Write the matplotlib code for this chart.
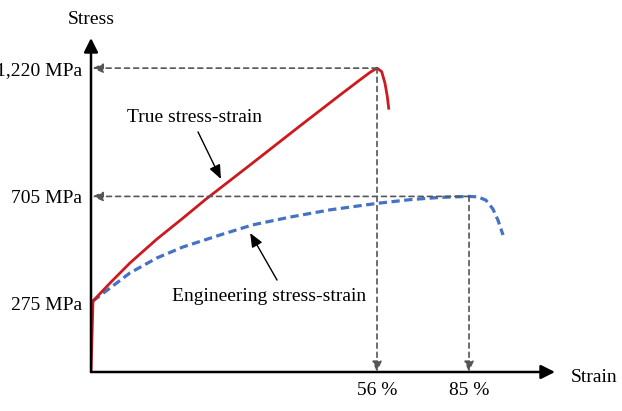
import matplotlib.pyplot as plt

plt.rcParams['font.family'] = ['Liberation Serif', 'DejaVu Serif']
plt.rcParams['font.size'] = 14

# schematic strain position along the axis (0-100), stress in MPa
true_strain = [0, 0.43, 4.09, 8.41, 14.22, 19.83, 24.57, 34.27, 45.04, 53.66,
               57.97, 60.13, 61.64, 62.65, 63.36, 63.86, 64.16]
true_stress = [0, 285, 357, 438, 534, 618, 691, 831, 988, 1112,
               1173, 1203, 1220, 1206, 1159, 1106, 1059]

eng_strain = [0.43, 4.09, 8.41, 14.22, 19.83, 27.80, 34.70, 42.89, 51.51, 61.64,
              68.75, 75.22, 81.47, 83.4, 85.1, 86.6, 87.7, 88.8]
eng_stress = [285, 337, 398, 458, 502, 550, 590, 622, 651, 677,
              692, 701, 705, 703, 690, 655, 610, 550]

# peaks: (strain position, stress) and their labels
peak_x = [61.64, 81.47]
peak_y = [1220, 705]
peak_labels = ['56 %', '85 %']
stress_ticks = [275, 705, 1220]
stress_labels = ['275 MPa', '705 MPa', '1,220 MPa']

fig = plt.figure(figsize=(6.22, 4.11), dpi=100)
ax = fig.add_axes([91/622, 39/411, 464/622, 334/411])
ax.set_xlim(0, 100)
ax.set_ylim(0, 1341)
for s in ax.spines.values():
    s.set_visible(False)

ax.set_yticks(stress_ticks)
ax.set_yticklabels(stress_labels)
ax.set_xticks(peak_x)
ax.set_xticklabels(peak_labels)
ax.tick_params(length=0)
ax.tick_params(axis='y', pad=6.5)
ax.tick_params(axis='x', pad=7)

# axes with arrows
arrow_kw = dict(arrowstyle='-|>,head_length=0.6,head_width=0.3', lw=1.8,
                color='black', shrinkA=0, shrinkB=0)
ax.annotate('', xy=(1, 0), xytext=(0, 0), xycoords='axes fraction', arrowprops=arrow_kw)
ax.annotate('', xy=(0, 1), xytext=(0, 0), xycoords='axes fraction', arrowprops=arrow_kw)
fig.text(91/622, 1 - 19/411, 'Stress', ha='center', va='center')
fig.text(571/622, 1 - 377/411, 'Strain', ha='left', va='center')

# dashed guide lines
dash_kw = dict(arrowstyle='-|>,head_length=0.45,head_width=0.2', lw=1.2,
               color='#555555', linestyle=(0, (3, 2.5)), shrinkA=0, shrinkB=0)
for px, py in zip(peak_x, peak_y):
    ax.annotate('', xy=(0.3, py), xytext=(px, py), arrowprops=dash_kw)
    ax.annotate('', xy=(px, 0), xytext=(px, py), arrowprops=dash_kw)

# curves
ax.plot(eng_strain, eng_stress, color='#4472c4', lw=2.3, linestyle=(0, (2.6, 1.4)),
        solid_capstyle='butt')
ax.plot(true_strain, true_stress, color='#cc1a1f', lw=2.0)

# labels with arrows
ann_kw = dict(arrowstyle='-|>,head_length=0.6,head_width=0.25', lw=1.0, color='black',
              shrinkA=0, shrinkB=0)
ax.text(22.3, 1020, 'True stress-strain', ha='center', va='center')
ax.annotate('', xy=(28.0, 775), xytext=(23.06, 964), arrowprops=ann_kw)
ax.text(38.4, 305, 'Engineering stress-strain', ha='center', va='center')
ax.annotate('', xy=(34.3, 558), xytext=(40.1, 369), arrowprops=ann_kw)

fig.savefig('out.png', dpi=100)
